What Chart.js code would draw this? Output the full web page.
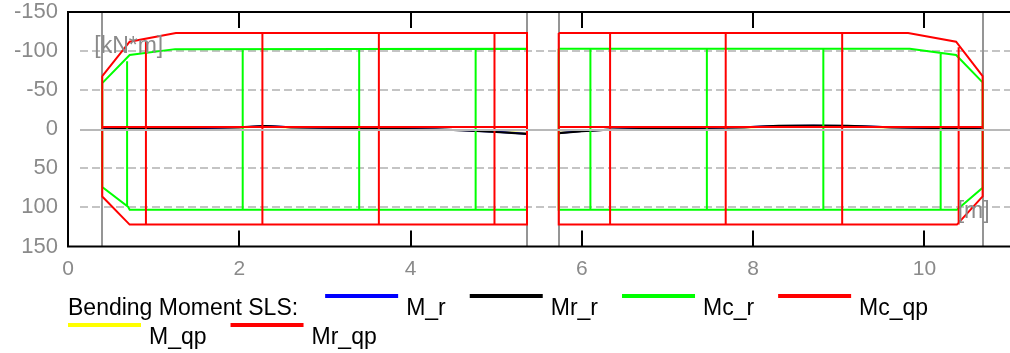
<!DOCTYPE html>
<html>
<head>
<meta charset="utf-8">
<script src="https://cdn.jsdelivr.net/npm/chart.js@4"></script>
<style>
  html, body { margin: 0; padding: 0; overflow: hidden; background: #fff; }
  canvas { display: block; }
</style>
</head>
<body>
<canvas id="chart" width="1040" height="353"></canvas>
<script>
// axis ranges (x in m, y in kN*m, y reversed: negative up)
const xMax = 11.35;
const yMin = -150, yMax = 150;
const xStep = 2, yStep = 50;
const supportX = [0.4, 5.36, 5.73, 10.68];

const legendTitle = 'Bending Moment SLS:';
const seriesNames = ['M_r', 'Mr_r', 'Mc_r', 'Mc_qp', 'M_qp', 'Mr_qp'];

// Mc_qp envelope (outline per span + step lines)
const mcqpLeftX = [0.4, 0.72, 1.26, 5.36, 5.36, 0.72, 0.4, 0.4];
const mcqpLeftY = [-68, -112, -123, -123, 122, 122, 86, -68];
const mcqpRightX = [5.73, 9.81, 10.37, 10.68, 10.68, 10.38, 5.73, 5.73];
const mcqpRightY = [-123, -123, -112, -68, 86, 122, 122, -123];
const mcqpStepX = [0.91, 2.27, 3.63, 4.98, 6.33, 7.68, 9.04, 10.40];
const mcqpStepTop = [-112, -123, -123, -123, -123, -123, -123, -105];
const mcqpStepBot = [122, 122, 122, 122, 122, 122, 122, 122];

// Mc_r envelope
const mcrLeftX = [0.4, 0.72, 1.25, 5.36, 5.36, 0.72, 0.70, 0.4, 0.4];
const mcrLeftY = [-59, -95, -102.5, -103, 103, 103, 99, 74, -59];
const mcrRightX = [5.73, 9.83, 10.37, 10.68, 10.68, 10.38, 5.73, 5.73];
const mcrRightY = [-103, -103, -95, -60, 75, 103, 103, -103];
const mcrStepX = [0.69, 2.04, 3.40, 4.76, 6.10, 7.46, 8.82, 10.19];
const mcrStepTop = [-87, -103, -103, -103, -103, -103, -103, -98];
const mcrStepBot = [99, 103, 103, 103, 103, 103, 103, 103];

// acting moments
const mLeftX = [0.4, 1.0, 1.6, 2.0, 2.3, 2.6, 3.0, 3.5, 3.9, 4.3, 4.6, 5.0, 5.36];
const mRightX = [5.73, 6.0, 6.3, 6.8, 7.3, 7.9, 8.3, 8.7, 9.1, 9.6, 10.1, 10.68];
const mrLeft = [0, -0.9, -1.7, -2.4, -4.0, -2.5, -1.9, -1.1, -0.4, 0.4, 1.3, 3.2, 5.6];
const mrRight = [4.7, 2.4, 0.6, -0.6, -1.5, -2.5, -4.1, -4.5, -4.1, -2.5, -1.5, 0];
const mrrLeft = [0, -1.0, -1.8, -2.5, -4.3, -2.6, -2.0, -1.2, -0.4, 0.4, 1.4, 3.4, 6.0];
const mrrRight = [5.0, 2.6, 0.6, -0.6, -1.6, -2.6, -4.4, -4.8, -4.4, -2.6, -1.6, 0];
const mqpLeft = [0, -0.8, -1.5, -2.2, -3.7, -2.3, -1.7, -1.0, -0.3, 0.3, 1.2, 3.0, 5.2];
const mqpRight = [4.4, 2.2, 0.5, -0.5, -1.4, -2.3, -3.8, -4.2, -3.8, -2.3, -1.4, 0];

// Mr_qp
const mrqpLeftX = [0.4, 5.36];
const mrqpRightX = [5.73, 10.68];
const mrqpLeft = [-2.8, -2.8];
const mrqpRight = [-2.8, -2.8];

function pts(xs, ys) {
  return xs.map((x, i) => ({ x: x, y: ys[i] }));
}
function joinParts(parts) {
  const out = [];
  parts.forEach((p, i) => {
    if (i) out.push({ x: p[0].x, y: null });
    out.push(...p);
  });
  return out;
}
function steps(xs, tops, bots) {
  return xs.map((x, i) => pts([x, x], [tops[i], bots[i]]));
}

const colors = ['#0000ff', '#000000', '#00ff00', '#ff0000', '#ffff00', '#ff0000'];
const drawOrder = [5, 4, 3, 2, 6, 1]; // higher = drawn first

const seriesData = [
  joinParts([pts(mLeftX, mrLeft), pts(mRightX, mrRight)]),
  joinParts([pts(mLeftX, mrrLeft), pts(mRightX, mrrRight)]),
  joinParts([pts(mcrLeftX, mcrLeftY), pts(mcrRightX, mcrRightY), ...steps(mcrStepX, mcrStepTop, mcrStepBot)]),
  joinParts([pts(mcqpLeftX, mcqpLeftY), pts(mcqpRightX, mcqpRightY), ...steps(mcqpStepX, mcqpStepTop, mcqpStepBot)]),
  joinParts([pts(mLeftX, mqpLeft), pts(mRightX, mqpRight)]),
  joinParts([pts(mrqpLeftX, mrqpLeft), pts(mrqpRightX, mrqpRight)])
];

const datasets = seriesNames.map((name, i) => ({
  label: name,
  data: seriesData[i],
  borderColor: colors[i],
  backgroundColor: colors[i],
  borderWidth: 2,
  pointRadius: 0,
  tension: 0,
  fill: false,
  spanGaps: false,
  order: drawOrder[i]
}));

const FONT = '"Liberation Sans", Arial, sans-serif';
const GRAY = '#8a8a8a';

const framePlugin = {
  id: 'frame',
  beforeDatasetsDraw(chart) {
    const { ctx, chartArea: a, scales: { x, y } } = chart;
    ctx.save();
    ctx.lineWidth = 2;
    // dashed horizontal grid
    ctx.setLineDash([8, 4]);
    ctx.strokeStyle = '#c4c4c4';
    for (let v = yMin + yStep; v < yMax; v += yStep) {
      if (v === 0) continue;
      const py = Math.round(y.getPixelForValue(v));
      ctx.beginPath();
      ctx.moveTo(a.left + 12, py);
      ctx.lineTo(a.right, py);
      ctx.stroke();
    }
    ctx.setLineDash([]);
    // supports
    ctx.strokeStyle = '#959595';
    supportX.forEach(s => {
      const px = Math.round(x.getPixelForValue(s));
      ctx.beginPath();
      ctx.moveTo(px, a.top);
      ctx.lineTo(px, a.bottom);
      ctx.stroke();
    });
    ctx.restore();
  },
  afterDatasetsDraw(chart) {
    const { ctx, chartArea: a, scales: { x, y } } = chart;
    ctx.save();
    // zero line over the curves
    const py0 = Math.round(y.getPixelForValue(0)) + 1;
    ctx.strokeStyle = '#b8b8b8';
    ctx.lineWidth = 2;
    ctx.beginPath();
    ctx.moveTo(a.left + 12, py0);
    ctx.lineTo(a.right, py0);
    ctx.stroke();
    // frame
    ctx.strokeStyle = '#000';
    ctx.strokeRect(a.left, a.top, a.right - a.left, a.bottom - a.top);
    // inner ticks
    for (let v = xStep; v < xMax; v += xStep) {
      const px = Math.round(x.getPixelForValue(v));
      ctx.beginPath();
      ctx.moveTo(px, a.top);
      ctx.lineTo(px, a.top + 16);
      ctx.moveTo(px, a.bottom - 16);
      ctx.lineTo(px, a.bottom);
      ctx.stroke();
    }
    // unit labels
    ctx.fillStyle = GRAY;
    ctx.font = '23px ' + FONT;
    ctx.textAlign = 'left';
    ctx.fillText('[kN*m]', x.getPixelForValue(supportX[0]) - 8, a.top + 41);
    ctx.textAlign = 'right';
    ctx.fillText('[m]', x.getPixelForValue(supportX[3]) + 7, a.top + 206);
    ctx.restore();
  },
  afterDraw(chart) {
    const { ctx, chartArea: a } = chart;
    ctx.save();
    ctx.font = '23px ' + FONT;
    ctx.fillStyle = '#000';
    ctx.textAlign = 'left';
    ctx.textBaseline = 'alphabetic';
    let lx = a.left, ly = 315;
    ctx.fillText(legendTitle, lx, ly);
    lx += ctx.measureText(legendTitle).width + 27;
    chart.data.datasets.forEach(ds => {
      const w = 81 + ctx.measureText(ds.label).width;
      if (lx + w > 1005) { lx = a.left; ly += 29; }
      ctx.strokeStyle = ds.borderColor;
      ctx.lineWidth = 4;
      ctx.beginPath();
      ctx.moveTo(lx, ly - 19);
      ctx.lineTo(lx + 73, ly - 19);
      ctx.stroke();
      ctx.fillText(ds.label, lx + 81, ly);
      lx += w + 24;
    });
    ctx.restore();
  }
};

new Chart(document.getElementById('chart').getContext('2d'), {
  type: 'line',
  data: { datasets: datasets },
  options: {
    responsive: false,
    animation: false,
    devicePixelRatio: 1,
    layout: { padding: { top: 12, left: 0, right: 0, bottom: 0 } },
    plugins: { legend: { display: false }, tooltip: { enabled: false } },
    scales: {
      x: {
        type: 'linear',
        min: 0,
        max: xMax,
        grid: { display: false, drawTicks: false },
        border: { display: false },
        ticks: { stepSize: xStep, includeBounds: false, color: GRAY, font: { family: FONT, size: 21 }, padding: 10, maxRotation: 0 },
        afterFit: s => { s.height = 106.5; s.paddingLeft = 0; s.paddingRight = 0; }
      },
      y: {
        type: 'linear',
        min: yMin,
        max: yMax,
        reverse: true,
        grid: { display: false, drawTicks: false },
        border: { display: false },
        ticks: { stepSize: yStep, color: GRAY, font: { family: FONT, size: 22 }, padding: 10 },
        afterFit: s => { s.width = 68; s.paddingTop = 0; s.paddingBottom = 0; }
      }
    }
  },
  plugins: [framePlugin]
});
</script>
</body>
</html>
